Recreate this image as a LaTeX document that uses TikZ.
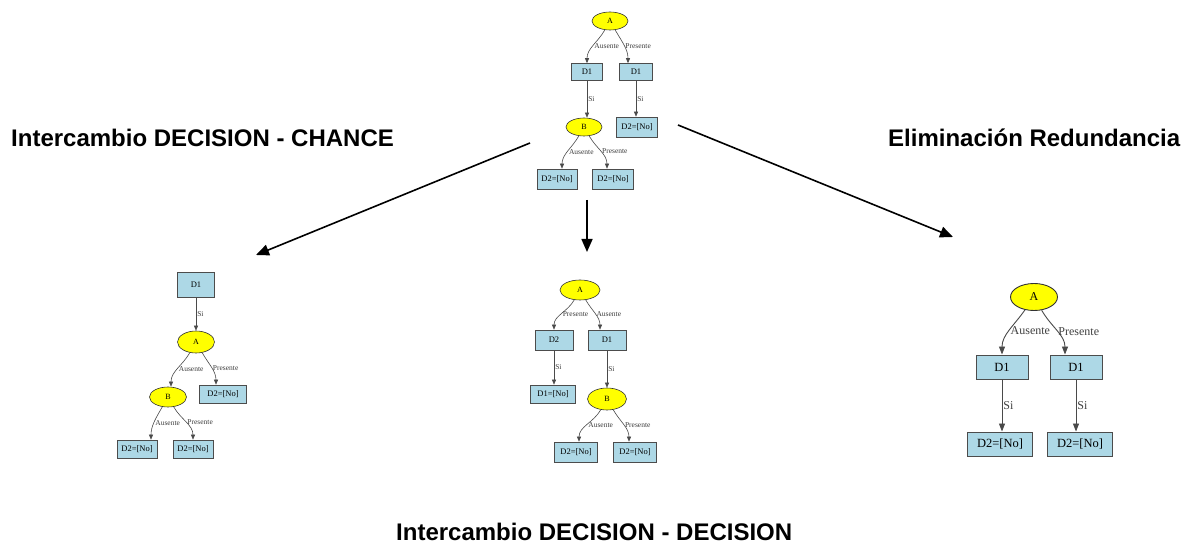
\documentclass[tikz,border=0pt]{standalone}
\usepackage{fontspec}
\setmainfont{Liberation Serif}
\newfontfamily\headfont{Liberation Sans}
\usetikzlibrary{arrows.meta,shapes.geometric}
\definecolor{boxblue}{HTML}{ADD8E6}
\definecolor{chanceyellow}{HTML}{FFFF00}
\definecolor{edgegray}{HTML}{4A4A4A}

\tikzset{
  chance/.style={ellipse, draw=black!80, fill=chanceyellow, line width=0.6pt, inner sep=0pt,
    font=\fontsize{8}{9}\selectfont},
  decision/.style={rectangle, draw=black!70, fill=boxblue, line width=0.6pt, inner sep=0pt,
    font=\fontsize{8.5}{10}\selectfont},
  tree/.style={draw=edgegray, line width=0.6pt, -{Triangle[length=5pt,width=4pt]}},
  lbl/.style={font=\fontsize{7.5}{9}\selectfont, text=black!75, inner sep=1pt, right},
  chanceL/.style={chance, line width=0.9pt, font=\fontsize{12}{14}\selectfont},
  decisionL/.style={decision, line width=0.9pt, font=\fontsize{12.5}{15}\selectfont},
  treeL/.style={draw=edgegray, line width=0.9pt, -{Triangle[length=8pt,width=6pt]}},
  lblL/.style={font=\fontsize{12}{14}\selectfont, text=black!75, inner sep=1pt, right},
  big/.style={line width=1.6pt, -{Triangle[length=13pt,width=11pt]}},
  title/.style={font=\headfont\bfseries\fontsize{24}{28}\selectfont, inner sep=0pt, anchor=base west},
}

\begin{document}
\begin{tikzpicture}[x=1pt,y=1pt]
\useasboundingbox[fill=white] (0,0) rectangle (1195,544);

% ---- original tree (top centre)
\node[chance, minimum width=36pt, minimum height=18pt] (tA) at (610,523) {A};
\node[decision, minimum width=31pt, minimum height=17pt] (tD1a) at (587,472) {D1};
\node[decision, minimum width=33pt, minimum height=17pt] (tD1b) at (636,472) {D1};
\node[chance, minimum width=36pt, minimum height=18pt] (tB) at (584,417) {B};
\node[decision, minimum width=41pt, minimum height=20pt] (tD2c) at (637,417) {D2=[No]};
\node[decision, minimum width=40pt, minimum height=20pt] (tD2a) at (557,365) {D2=[No]};
\node[decision, minimum width=41pt, minimum height=20pt] (tD2b) at (613,365) {D2=[No]};

\draw[tree] (tA) to[out=-120,in=90] node[lbl] (tl1) {Ausente} (tD1a);
\draw[tree] (tA) to[out=-60,in=90] node[lbl] (tl2) {Presente} ([xshift=-8pt]tD1b.north);
\draw[tree] (tD1a.south) -- node[lbl] (tl3) {Si} (tD1a.south |- tB.north);
\draw[tree] (tD1b.south) -- node[lbl] (tl4) {Si} (tD1b.south |- tD2c.north);
\draw[tree] (tB) to[out=-120,in=90] node[lbl] (tl5) {Ausente} ([xshift=5pt]tD2a.north);
\draw[tree] (tB) to[out=-60,in=90] node[lbl] (tl6) {Presente} ([xshift=-6pt]tD2b.north);

% ---- decision/chance exchange (left)
\node[decision, minimum width=37pt, minimum height=25pt] (lD1) at (196,259) {D1};
\node[chance, minimum width=37pt, minimum height=22pt] (lA) at (196,202) {A};
\node[chance, minimum width=37pt, minimum height=20pt] (lB) at (168,147) {B};
\node[decision, minimum width=47pt, minimum height=18pt] (lD2c) at (223,150) {D2=[No]};
\node[decision, minimum width=40pt, minimum height=18pt] (lD2a) at (137,95) {D2=[No]};
\node[decision, minimum width=40pt, minimum height=18pt] (lD2b) at (193,95) {D2=[No]};

\draw[tree] (lD1) -- node[lbl] (ll1) {Si} (lA);
\draw[tree] (lA) to[out=-120,in=90] node[lbl] (ll2) {Ausente} ([xshift=3pt]lB.north);
\draw[tree] (lA) to[out=-60,in=90] node[lbl] (ll3) {Presente} ([xshift=-7pt]lD2c.north);
\draw[tree] (lB) to[out=-120,in=90] node[lbl] (ll4) {Ausente} ([xshift=14pt]lD2a.north);
\draw[tree] (lB) to[out=-60,in=90] node[lbl] (ll5) {Presente} (lD2b.north);

% ---- decision/decision exchange (centre)
\node[chance, minimum width=40pt, minimum height=20pt] (mA) at (580,254) {A};
\node[decision, minimum width=38pt, minimum height=20pt] (mD2) at (554,204) {D2};
\node[decision, minimum width=38pt, minimum height=20pt] (mD1) at (607,204) {D1};
\node[decision, minimum width=45pt, minimum height=18pt] (mD1n) at (553,150) {D1=[No]};
\node[chance, minimum width=39pt, minimum height=22pt] (mB) at (607,145) {B};
\node[decision, minimum width=43pt, minimum height=20pt] (mD2a) at (576,92) {D2=[No]};
\node[decision, minimum width=43pt, minimum height=20pt] (mD2b) at (635,92) {D2=[No]};

\draw[tree] (mA) to[out=-120,in=90] node[lbl] (ml1) {Presente} (mD2.north);
\draw[tree] (mA) to[out=-60,in=90] node[lbl] (ml2) {Ausente} ([xshift=-7pt]mD1.north);
\draw[tree] (mD2.south) -- node[lbl] (ml3) {Si} (mD2.south |- mD1n.north);
\draw[tree] (mD1) -- node[lbl] (ml4) {Si} (mB);
\draw[tree] (mB) to[out=-120,in=90] node[lbl] (ml5) {Ausente} ([xshift=3pt]mD2a.north);
\draw[tree] (mB) to[out=-60,in=90] node[lbl] (ml6) {Presente} ([xshift=-6pt]mD2b.north);

% ---- redundancy removed (right)
\node[chanceL, minimum width=47pt, minimum height=27pt] (rA) at (1034,247) {A};
\node[decisionL, minimum width=52pt, minimum height=24pt] (rD1a) at (1002,177) {D1};
\node[decisionL, minimum width=52pt, minimum height=24pt] (rD1b) at (1076,177) {D1};
\node[decisionL, minimum width=65pt, minimum height=24pt] (rD2a) at (1000,100) {D2=[No]};
\node[decisionL, minimum width=65pt, minimum height=24pt] (rD2b) at (1080,100) {D2=[No]};

\draw[treeL] (rA) to[out=-125,in=90] node[lblL] (rl1) {Ausente} (rD1a.north);
\draw[treeL] (rA) to[out=-60,in=90] node[lblL] (rl2) {Presente} ([xshift=-11pt]rD1b.north);
\draw[treeL] (rD1a.south) -- node[lblL] (rl3) {Si} (rD1a.south |- rD2a.north);
\draw[treeL] (rD1b.south) -- node[lblL] (rl4) {Si} (rD1b.south |- rD2b.north);

% ---- transformation arrows
\coordinate (aL0) at (530,401); \coordinate (aL1) at (256,289);
\coordinate (aM0) at (587,344); \coordinate (aM1) at (587,292);
\coordinate (aR0) at (678,419); \coordinate (aR1) at (953,307);
\draw[big] (aL0) -- (aL1);
\draw[big] (aM0) -- (aM1);
\draw[big] (aR0) -- (aR1);

% ---- captions
\node[title] (capL) at (11,397) {Intercambio DECISION - CHANCE};
\node[title] (capR) at (888,397) {Eliminación Redundancia};
\node[title] (capB) at (396,4) {Intercambio DECISION - DECISION};
\end{tikzpicture}
\end{document}
